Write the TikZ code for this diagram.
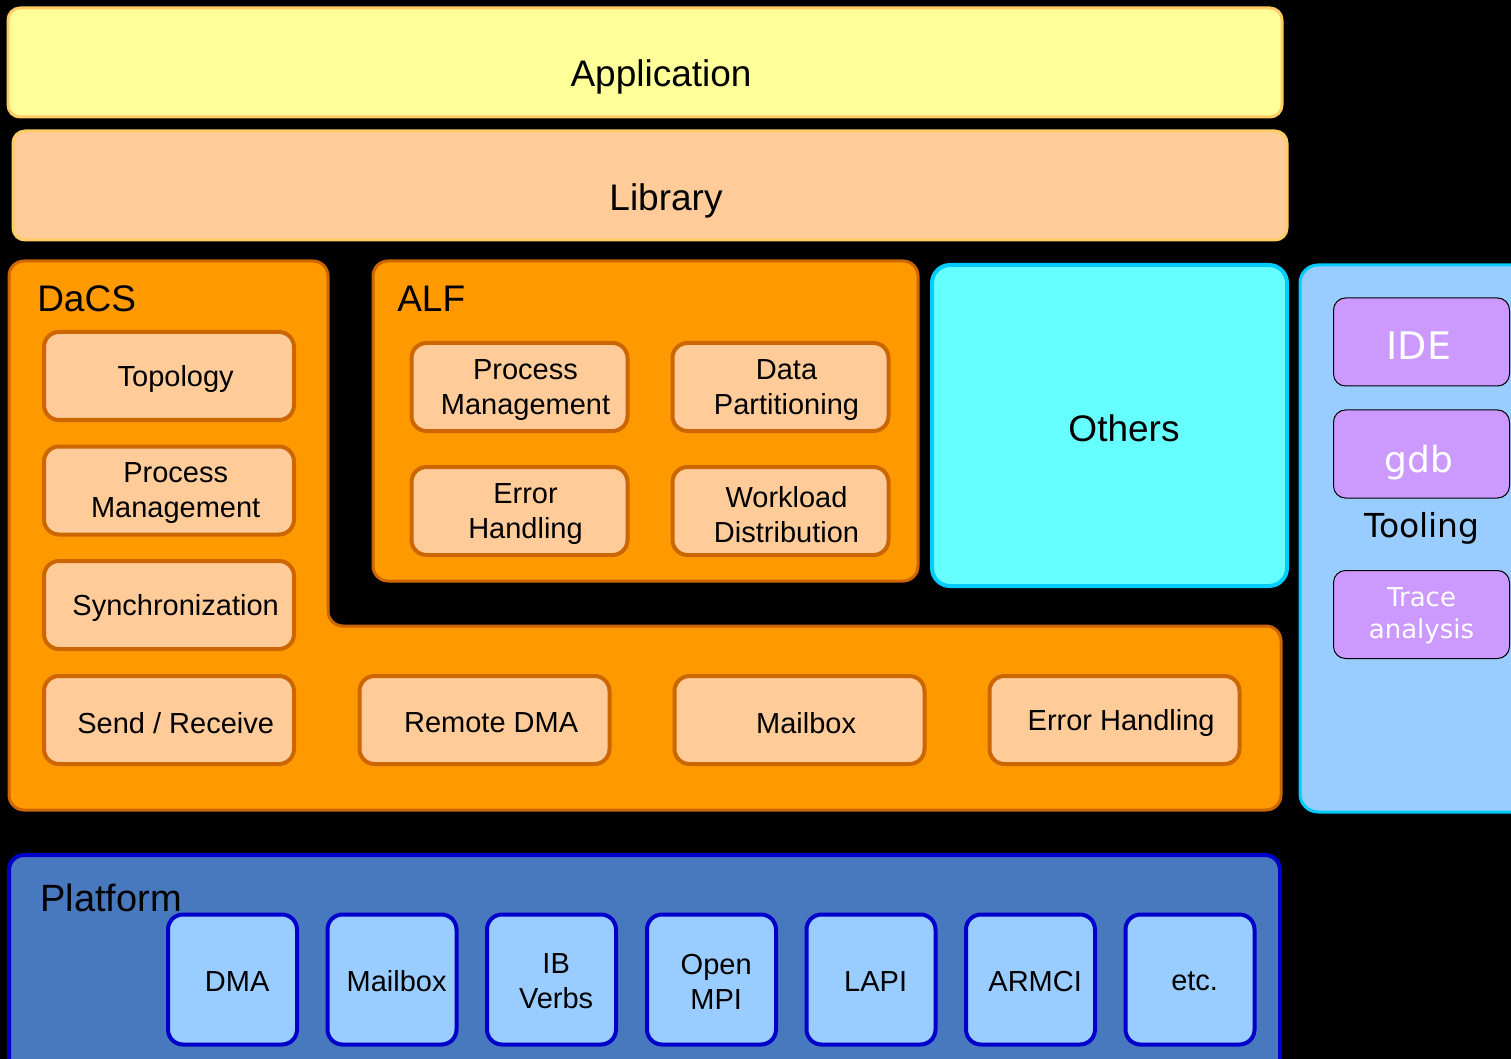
\documentclass[tikz,border=0pt]{standalone}
\usepackage{fontspec}
\setmainfont{Liberation Sans}
\newfontfamily\dejavu{DejaVu Sans}
\usetikzlibrary{positioning}

\definecolor{appfill}{HTML}{FFFF99}
\definecolor{libfill}{HTML}{FFCC99}
\definecolor{paleedge}{HTML}{FFCC66}
\definecolor{dacsfill}{HTML}{FF9900}
\definecolor{dacsedge}{HTML}{CC6600}
\definecolor{othfill}{HTML}{66FFFF}
\definecolor{cyanedge}{HTML}{00CCFF}
\definecolor{toolfill}{HTML}{99CCFF}
\definecolor{toolbox}{HTML}{CC99FF}
\definecolor{platfill}{HTML}{4878BE}
\definecolor{platedge}{HTML}{0000CC}

\tikzset{
  panel/.style={rounded corners=9pt, line width=2.25pt, inner sep=0pt},
  heading/.style={font=\fontsize{27.75pt}{33pt}\selectfont, inner sep=0pt},
  boxtext/.style={font=\fontsize{21.75pt}{26.25pt}\selectfont, align=center, inner sep=0pt},
  ibox/.style={rounded corners=11.25pt, draw=dacsedge, fill=libfill, line width=3pt,
    minimum width=187.5pt, minimum height=66pt, inner sep=0pt},
  abox/.style={ibox, minimum width=162pt},
  tbox/.style={rounded corners=9pt, draw=black, fill=toolbox, line width=0.75pt,
    minimum width=132pt, minimum height=66pt, inner sep=0pt},
  pbox/.style={rounded corners=11.25pt, draw=platedge, fill=toolfill, line width=3pt,
    minimum width=96.75pt, minimum height=97.5pt, inner sep=0pt},
  tooltext/.style={text=white, inner sep=0pt, anchor=base},
}

\begin{document}
\begin{tikzpicture}[x=0.75pt,y=-0.75pt]
\useasboundingbox (0,0) rectangle (1511,1059);
\fill[black] (0,0) rectangle (1511,1059);
\clip (0,0) rectangle (1511,1059);

% top layers
\node[panel, draw=paleedge, fill=appfill, minimum width=955.5pt, minimum height=81.75pt] (app) at (645,62.5) {};
\node[heading, anchor=base] (apptxt) at (661,87) {Application};
\node[panel, draw=paleedge, fill=libfill, minimum width=955.5pt, minimum height=81.75pt] (lib) at (650,185.5) {};
\node[heading, anchor=base] (libtxt) at (666,211) {Library};

% DaCS (L-shaped panel)
\draw[rounded corners=11.25pt, draw=dacsedge, fill=dacsfill, line width=2.25pt]
  (9,261) -- (328,261) -- (328,626) -- (1281,626) -- (1281,810) -- (9,810) -- cycle;
\node[heading, anchor=base west] (dacstxt) at (37,312) {DaCS};

\foreach \nm/\cx/\cy/\txt in {
    topo/169/376/{Topology},
    dpm/169/490.5/{Process\\Management},
    sync/169/605/{Synchronization},
    sendrecv/169/720/{Send / Receive},
    rdma/484.5/720/{Remote DMA},
    mbox/799.5/720/{Mailbox},
    derr/1114.5/720/{Error Handling}}{
  \node[ibox] (\nm) at (\cx,\cy) {};
  \node[boxtext] (\nm-t) at ([xshift=5pt,yshift=-2pt]\nm.center) {\txt};
}

% ALF
\node[panel, rounded corners=11.25pt, draw=dacsedge, fill=dacsfill, minimum width=408.75pt, minimum height=240pt] (alf) at (645.5,421) {};
\node[heading, anchor=base west] (alftxt) at (397,312) {ALF};
\foreach \nm/\cx/\cy/\txt in {
    apm/519.5/387/{Process\\Management},
    adp/780.5/387/{Data\\Partitioning},
    aeh/519.5/511/{Error\\Handling},
    awd/780.5/511/{Workload\\Distribution}}{
  \node[abox] (\nm) at (\cx,\cy) {};
  \node[boxtext] (\nm-t) at ([xshift=4.5pt,yshift=-2.5pt]\nm.center) {\txt};
}

% Others
\node[panel, rounded corners=13.5pt, line width=3pt, draw=cyanedge, fill=othfill, minimum width=266.25pt, minimum height=240.75pt] (others) at (1109.5,425.5) {};
\node[heading, anchor=base] (othtxt) at (1124,441) {Others};

% Tooling
\node[panel, rounded corners=13.5pt, draw=cyanedge, fill=toolfill, minimum width=172.5pt, minimum height=410.25pt] (tooling) at (1415,538.5) {};
\node[tbox] (ide) at (1421.5,342) {};
\node[tooltext, font=\dejavu\fontsize{28.5pt}{33pt}\selectfont] (ide-t) at (1419,360) {IDE};
\node[tbox] (gdb) at (1421.5,454) {};
\node[tooltext, font=\dejavu\fontsize{27pt}{33pt}\selectfont] (gdb-t) at (1419,472) {gdb};
\node[font=\dejavu\fontsize{24.75pt}{30pt}\selectfont, anchor=base, inner sep=0pt] (tooltxt) at (1422,537) {Tooling};
\node[tbox] (trace) at (1421.5,614.5) {};
\node[font=\dejavu\fontsize{19.5pt}{24pt}\selectfont, text=white, align=center, inner sep=0pt] (trace-t) at ([yshift=-0.75pt]trace.center) {Trace\\analysis};

% Platform
\node[panel, rounded corners=11.25pt, line width=3pt, draw=platedge, fill=platfill, minimum width=953.25pt, minimum height=165pt] (platform) at (644.5,965) {};
\node[heading, anchor=base west, font=\fontsize{28.5pt}{33pt}\selectfont] (plattxt) at (40,911) {Platform};
\foreach \nm/\cx/\txt in {
    pdma/232.5/{DMA},
    pmbox/392/{Mailbox},
    pib/551.5/{IB\\Verbs},
    pmpi/711.5/{Open\\MPI},
    plapi/871/{LAPI},
    parmci/1030.5/{ARMCI},
    petc/1190/{etc.}}{
  \node[pbox] (\nm) at (\cx,979.5) {};
  \node[boxtext] (\nm-t) at ([xshift=3.5pt,yshift=-1.5pt]\nm.center) {\txt};
}
\end{tikzpicture}
\end{document}
